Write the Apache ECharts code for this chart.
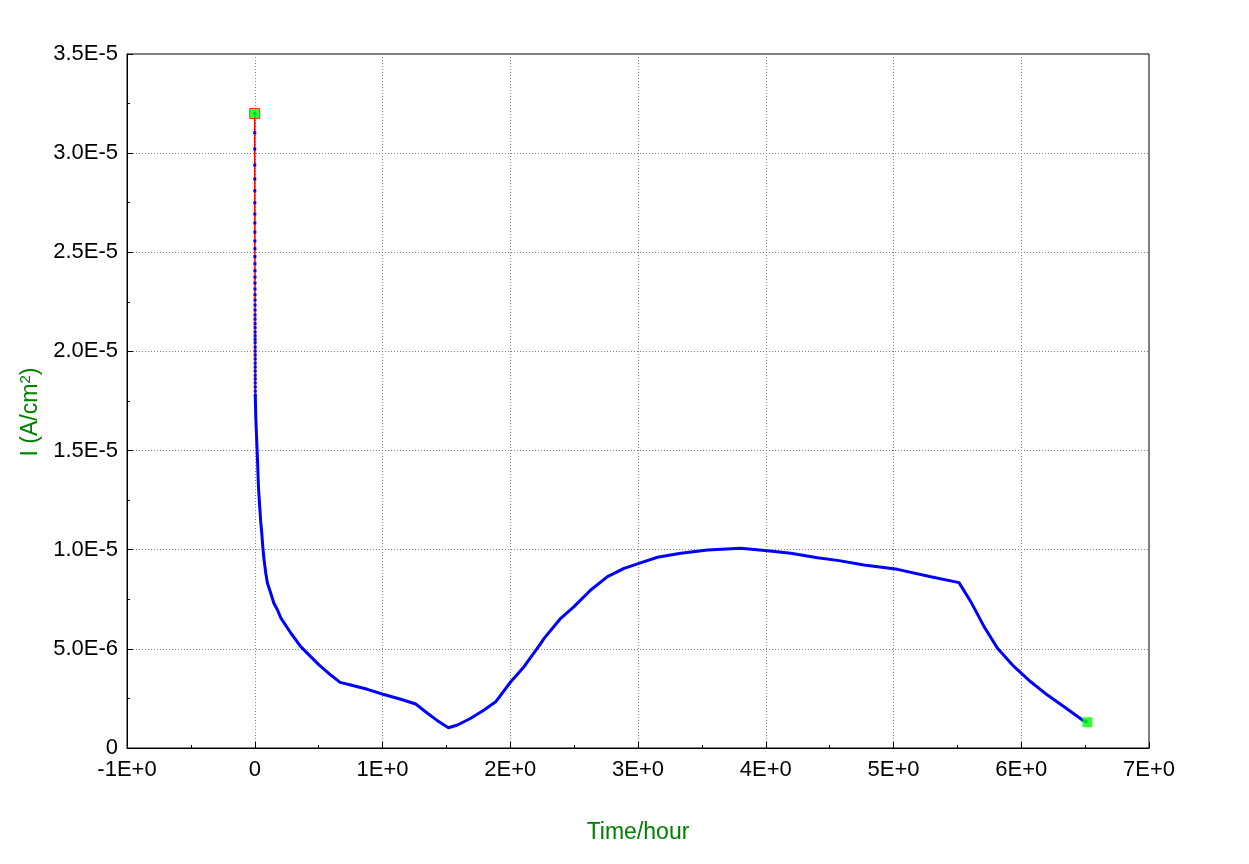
<!DOCTYPE html>
<html>
<head>
<meta charset="utf-8">
<script src="https://cdn.jsdelivr.net/npm/echarts@6/dist/echarts.min.js"></script>
<style>html,body{margin:0;padding:0;background:#fff;}#c{width:1249px;height:864px;}</style>
</head>
<body>
<div id="c"></div>
<script>
// Initial spike (hours, A/cm2)
var spikeTime = [0, 0.0001, 0.0002, 0.0003, 0.0004, 0.0005, 0.0006, 0.0007, 0.0008, 0.0009, 0.0010,
  0.0011, 0.0012, 0.0013, 0.0014, 0.0015, 0.0016, 0.0017, 0.0018, 0.0019, 0.0020,
  0.0021, 0.0022, 0.0023, 0.0024, 0.0025, 0.0026, 0.0027, 0.0028, 0.0029, 0.0030,
  0.0031, 0.0032, 0.0033, 0.0034, 0.0035, 0.0036, 0.0037, 0.0038, 0.0039, 0.0040,
  0.0041, 0.0042];
var spikeCurrent = [3.200e-5, 3.103e-5, 3.021e-5, 2.940e-5, 2.870e-5, 2.810e-5, 2.750e-5, 2.693e-5, 2.648e-5, 2.602e-5, 2.557e-5,
  2.518e-5, 2.478e-5, 2.442e-5, 2.407e-5, 2.375e-5, 2.345e-5, 2.315e-5, 2.286e-5, 2.259e-5, 2.234e-5,
  2.209e-5, 2.184e-5, 2.163e-5, 2.140e-5, 2.120e-5, 2.098e-5, 2.079e-5, 2.061e-5, 2.044e-5, 2.022e-5,
  2.002e-5, 1.982e-5, 1.962e-5, 1.941e-5, 1.921e-5, 1.901e-5, 1.880e-5, 1.861e-5, 1.841e-5, 1.821e-5,
  1.800e-5, 1.780e-5];
// Main decay / recovery curve
var curveTime = [0.0042, 0.0078, 0.0211, 0.029, 0.039, 0.047, 0.055, 0.063, 0.073, 0.086, 0.099, 0.125, 0.149, 0.178, 0.204,
  0.282, 0.360, 0.503, 0.595, 0.668, 0.751, 0.882, 1.004, 1.143, 1.260, 1.352, 1.430, 1.516, 1.587, 1.691,
  1.795, 1.886, 2.004, 2.108, 2.239, 2.265, 2.395, 2.499, 2.630, 2.761, 2.891, 3.008, 3.152, 3.335, 3.544,
  3.804, 4.013, 4.196, 4.405, 4.574, 4.769, 5.031, 5.292, 5.513, 5.605, 5.709, 5.814, 5.944, 6.074, 6.205,
  6.335, 6.479, 6.518];
var curveCurrent = [1.780e-5, 1.669e-5, 1.462e-5, 1.316e-5, 1.215e-5, 1.140e-5, 1.084e-5, 1.014e-5, 9.48e-6, 8.83e-6, 8.32e-6, 7.82e-6, 7.31e-6, 6.96e-6, 6.56e-6,
  5.80e-6, 5.11e-6, 4.19e-6, 3.68e-6, 3.31e-6, 3.18e-6, 2.96e-6, 2.71e-6, 2.46e-6, 2.22e-6, 1.75e-6, 1.38e-6, 1.02e-6, 1.16e-6, 1.50e-6,
  1.92e-6, 2.33e-6, 3.34e-6, 4.10e-6, 5.28e-6, 5.53e-6, 6.54e-6, 7.13e-6, 7.97e-6, 8.64e-6, 9.06e-6, 9.31e-6, 9.62e-6, 9.82e-6, 9.99e-6,
  1.007e-5, 9.95e-6, 9.82e-6, 9.60e-6, 9.45e-6, 9.23e-6, 9.01e-6, 8.64e-6, 8.34e-6, 7.38e-6, 6.12e-6, 5.03e-6, 4.10e-6, 3.34e-6, 2.67e-6,
  2.08e-6, 1.41e-6, 1.30e-6];
// End markers
var markerTime = [0, 6.518];
var markerCurrent = [3.200e-5, 1.30e-6];

var xMin = -1, xMax = 7, xInterval = 1;
var yMin = 0, yMax = 3.5e-5, yInterval = 5e-6;

function zip(a, b) { return a.map(function (v, i) { return [v, b[i]]; }); }

var chart = echarts.init(document.getElementById('c'), null, { renderer: 'canvas' });
var font = '"Liberation Sans", Arial, sans-serif';
var dotted = { color: '#808080', type: [1, 2], width: 1 };

chart.setOption({
  animation: false,
  backgroundColor: '#ffffff',
  grid: { left: 127, top: 54, right: 100, bottom: 116, show: true, borderColor: '#000', borderWidth: 1, backgroundColor: 'transparent' },
  xAxis: {
    type: 'value', min: xMin, max: xMax, interval: xInterval,
    name: 'Time/hour', nameLocation: 'middle', nameGap: 73,
    nameTextStyle: { color: '#008000', fontSize: 23, fontFamily: font },
    axisLine: { show: true, onZero: false, lineStyle: { color: '#000', width: 1 } },
    axisTick: { show: true, inside: true, length: 6, lineStyle: { color: '#000' } },
    minorTick: { show: true, splitNumber: 2, length: 3, lineStyle: { color: '#000' } },
    splitLine: { show: true, lineStyle: dotted },
    axisLabel: { color: '#000', fontSize: 22, fontFamily: font, margin: 11,
      formatter: function (v) { return v === 0 ? '0' : v.toExponential(0).toUpperCase(); } }
  },
  yAxis: {
    type: 'value', min: yMin, max: yMax, interval: yInterval,
    name: 'I (A/cm{sup|2})', nameLocation: 'middle', nameGap: 80,
    nameTextStyle: { color: '#008000', fontSize: 23, fontFamily: font, padding: [0, 22, 0, 0],
      rich: { sup: { color: '#008000', fontSize: 15, fontFamily: font, verticalAlign: 'top', padding: [0, 0, 9, 0] } } },
    axisLine: { show: true, onZero: false, lineStyle: { color: '#000', width: 1 } },
    axisTick: { show: true, inside: true, length: 6, lineStyle: { color: '#000' } },
    minorTick: { show: true, splitNumber: 2, length: 3, lineStyle: { color: '#000' } },
    splitLine: { show: true, lineStyle: dotted },
    axisLabel: { color: '#000', fontSize: 22, fontFamily: font, margin: 9,
      formatter: function (v) { return v === 0 ? '0' : v.toExponential(1).toUpperCase(); } }
  },
  series: [
    {
      type: 'line', data: zip(curveTime, curveCurrent), showSymbol: false, symbol: 'none',
      lineStyle: { color: '#0000ff', width: 3 }, z: 2
    },
    {
      type: 'line', data: zip(spikeTime, spikeCurrent), symbol: 'rect', symbolSize: 3, showAllSymbol: true,
      itemStyle: { color: '#0000ff' },
      lineStyle: { color: '#ff0000', width: 1.5 }, z: 3
    },
    {
      type: 'scatter', symbol: 'rect',
      data: [
        { value: [markerTime[0], markerCurrent[0]], symbolSize: 10, itemStyle: { color: '#00ff00', borderColor: '#ff0000', borderWidth: 1 } },
        { value: [markerTime[1], markerCurrent[1]], symbolSize: 10, itemStyle: { color: '#00ff00', borderWidth: 0 } }
      ], z: 5
    }
  ]
});
</script>
</body>
</html>
